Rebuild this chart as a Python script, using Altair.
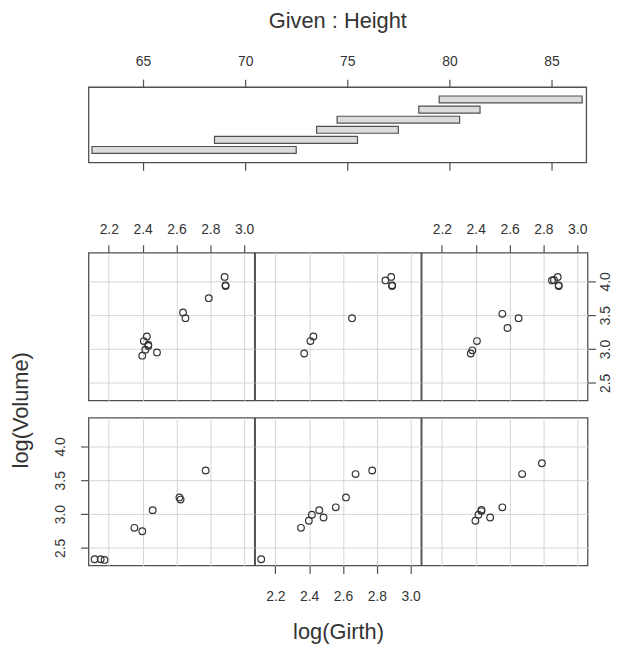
import altair as alt
import pandas as pd
import numpy as np

# trees data (Girth, Height, Volume)
girth = [8.3, 8.6, 8.8, 10.5, 10.7, 10.8, 11.0, 11.0, 11.1, 11.2, 11.3, 11.4, 11.4, 11.7, 12.0, 12.9,
         12.9, 13.3, 13.7, 13.8, 14.0, 14.2, 14.5, 16.0, 16.3, 17.3, 17.5, 17.9, 18.0, 18.0, 20.6]
height = [70, 65, 63, 72, 81, 83, 66, 75, 80, 75, 79, 76, 76, 69, 75, 74,
          85, 86, 71, 64, 78, 80, 74, 72, 77, 81, 82, 80, 80, 80, 87]
volume = [10.3, 10.3, 10.2, 16.4, 18.8, 19.7, 15.6, 18.2, 22.6, 19.9, 24.2, 21.0, 21.4, 21.3, 19.1, 22.2,
          33.8, 27.4, 25.7, 24.9, 34.5, 31.7, 36.3, 38.3, 42.6, 55.4, 55.7, 58.3, 51.5, 51.0, 77.0]

# given intervals of Height (bottom bar = panel 1)
int_lower = [62.5, 68.5, 73.5, 74.5, 78.5, 79.5]
int_upper = [72.5, 75.5, 77.5, 80.5, 81.5, 86.5]

height_ticks = [65, 70, 75, 80, 85]
x_ticks = [2.2, 2.4, 2.6, 2.8, 3.0]
y_ticks = [2.5, 3.0, 3.5, 4.0]

rows = []
for k, (lo, hi) in enumerate(zip(int_lower, int_upper), start=1):
    for g, h, v in zip(girth, height, volume):
        if lo <= h <= hi:
            rows.append({"panel": k, "lg": float(np.log(g)), "lv": float(np.log(v))})
pts = pd.DataFrame(rows)

gdf = pd.DataFrame({"lo": int_lower, "hi": int_upper, "idx": list(range(1, 7))})

INK = "#333333"
FRAME = "#505050"
FONT = "Liberation Sans"
PW = 502 / 3
PH = 149
TFS = 22
YT_X = -62

xs = alt.Scale(domain=[2.080, 3.061], nice=False, zero=False)
ys = alt.Scale(domain=[2.241, 4.425], nice=False, zero=False)

grid_x = alt.Axis(values=x_ticks, grid=True, labels=False, ticks=False, title=None)
grid_y = alt.Axis(values=y_ticks, grid=True, labels=False, ticks=False, title=None)
top_x = alt.Axis(orient="top", values=x_ticks, format=".1f", grid=True, labelPadding=8, title=None)
bottom_x = alt.Axis(orient="bottom", values=x_ticks, format=".1f", grid=True, labelPadding=16,
                    title="log(Girth)", titleBaseline="alphabetic", titleY=74)
left_y = alt.Axis(orient="left", values=y_ticks, format=".1f", grid=True, labelAngle=270,
                  labelAlign="center", labelBaseline="bottom", labelPadding=13,
                  title="log(Volume)", titleAngle=270, titleAlign="center",
                  titleBaseline="alphabetic", titleX=YT_X, titleY=-8)
right_y = alt.Axis(orient="right", values=y_ticks, format=".1f", grid=True, labelAngle=270,
                   labelAlign="center", labelBaseline="top", labelPadding=3, title=None)


def panel(k, xaxis, yaxis):
    return alt.Chart(pts).transform_filter(alt.datum.panel == k).mark_point(
        filled=False, size=45, color=INK, strokeWidth=1.2, opacity=1
    ).encode(
        x=alt.X("lg:Q", scale=xs, axis=xaxis),
        y=alt.Y("lv:Q", scale=ys, axis=yaxis),
    ).properties(width=PW, height=PH)


gx = alt.Scale(domain=[62.33, 86.7], nice=False, zero=False)
gy = alt.Scale(domain=[0.26, 6.74], nice=False, zero=False)

# invisible twin of the y title so that the given panel lines up with the panels below
ghost_y = alt.Axis(orient="left", labels=False, ticks=False, grid=False, title="log(Volume)",
                   titleOpacity=0, titleAngle=270, titleAlign="center", titleBaseline="alphabetic",
                   titleX=YT_X, titleY=0)

g_top = alt.Chart(gdf).mark_bar(size=7, fill="#dcdcdc", stroke=FRAME, strokeWidth=1.2).encode(
    x=alt.X("lo:Q", scale=gx, axis=alt.Axis(orient="top", values=height_ticks, grid=False, labelPadding=11,
                                             title="Given : Height", titleBaseline="alphabetic", titleY=-60.5)),
    x2="hi:Q",
    y=alt.Y("idx:Q", scale=gy, axis=ghost_y),
)
g_bot = alt.Chart(gdf).mark_bar(size=7, opacity=0).encode(
    x=alt.X("lo:Q", scale=gx, axis=alt.Axis(orient="bottom", values=height_ticks, labels=False, grid=False, title=None)),
    x2="hi:Q",
    y=alt.Y("idx:Q", scale=gy, axis=None),
)
given = alt.layer(g_top, g_bot).resolve_axis(x="independent").properties(width=502, height=76)

grid6 = alt.concat(
    panel(4, top_x, grid_y), panel(5, grid_x, grid_y), panel(6, top_x, right_y),
    panel(1, grid_x, left_y), panel(2, bottom_x, grid_y), panel(3, grid_x, grid_y),
    columns=3, spacing={"row": 17.5, "column": 0}, bounds="flush",
)

chart = alt.vconcat(given, grid6, spacing=50).properties(
    padding={"left": 0.2, "top": -3, "right": 0, "bottom": 0}
).configure_view(
    stroke=FRAME, strokeWidth=1.3
).configure_axis(
    domain=False, labelFont=FONT, labelFontSize=14, labelColor=INK,
    tickColor=FRAME, tickSize=8, tickWidth=1.2,
    gridColor="#d4d4d4", gridWidth=1,
    titleFont=FONT, titleFontSize=TFS, titleFontWeight="normal", titleColor=INK,
)

chart.save("out.html", embed_options={"renderer": "svg", "actions": False})
